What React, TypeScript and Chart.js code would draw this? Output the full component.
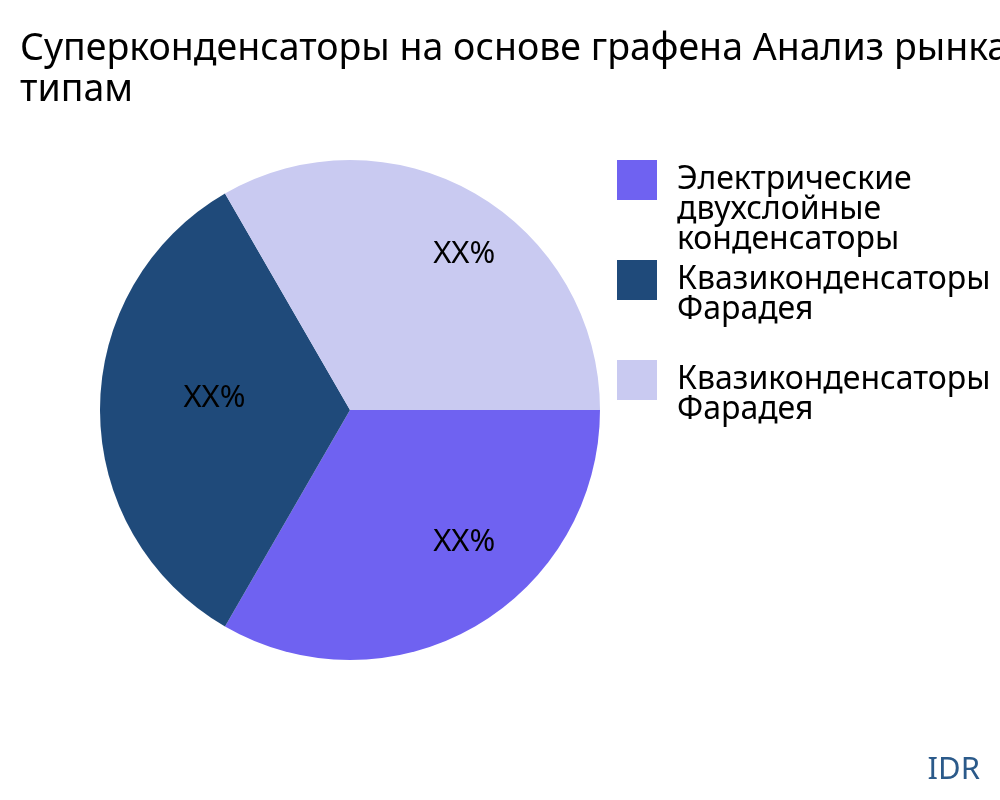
import React, { useEffect, useRef } from 'react';
import { Chart } from 'chart.js/auto';

const TITLE_LINES = ['Суперконденсаторы на основе графена Анализ рынка по', 'типам'];
const SEGMENTS = [
  'Электрические двухслойные конденсаторы',
  'Квазиконденсаторы Фарадея',
  'Квазиконденсаторы Фарадея',
];
const LEGEND_LINES = [
  ['Электрические', 'двухслойные', 'конденсаторы'],
  ['Квазиконденсаторы', 'Фарадея'],
  ['Квазиконденсаторы', 'Фарадея'],
];
const SHARES = [1, 1, 1];
const SLICE_LABELS = ['XX%', 'XX%', 'XX%'];
const COLORS = ['#6f62f1', '#1f4a7a', '#c9caf1'];
const SOURCE = 'IDR';

const FONT = '"Noto Sans", "Open Sans", sans-serif';

// custom drawing: title, slice labels, legend, source mark
const overlayPlugin = {
  id: 'overlay',
  afterDraw(chart: any) {
    const ctx = chart.ctx as CanvasRenderingContext2D;
    ctx.save();

    // title
    ctx.fillStyle = '#000';
    ctx.font = `37.5px ${FONT}`;
    ctx.textAlign = 'left';
    ctx.textBaseline = 'alphabetic';
    TITLE_LINES.forEach((line, i) => ctx.fillText(line, 20, 60 + i * 41));

    // labels inside slices
    const meta = chart.getDatasetMeta(0);
    ctx.font = `31px ${FONT}`;
    ctx.textAlign = 'center';
    ctx.textBaseline = 'middle';
    meta.data.forEach((arc: any, i: number) => {
      const { x, y, startAngle, endAngle, outerRadius } = arc.getProps(
        ['x', 'y', 'startAngle', 'endAngle', 'outerRadius'], true);
      const mid = (startAngle + endAngle) / 2;
      const r = outerRadius * 0.666;
      ctx.fillStyle = '#000';
      ctx.fillText(SLICE_LABELS[i], x + Math.cos(mid) * r + 31, y + Math.sin(mid) * r - 12);
    });

    // legend
    ctx.textAlign = 'left';
    ctx.font = `32px ${FONT}`;
    LEGEND_LINES.forEach((lines, i) => {
      const top = 160 + i * 100;
      ctx.fillStyle = COLORS[i];
      ctx.fillRect(617, top, 40, 40);
      ctx.fillStyle = '#000';
      lines.forEach((t, j) => ctx.fillText(t, 677, top + 20 + j * 30));
    });

    // source
    ctx.fillStyle = '#2b5a8a';
    ctx.font = `31px ${FONT}`;
    ctx.textAlign = 'right';
    ctx.textBaseline = 'alphabetic';
    ctx.fillText(SOURCE, 980, 779);

    ctx.restore();
  },
};

const App: React.FC = () => {
  const chartRef = useRef<HTMLCanvasElement>(null);
  const chartInstanceRef = useRef<Chart | null>(null);

  useEffect(() => {
    document.body.style.margin = '0';
    if (!chartRef.current) return;
    const ctx = chartRef.current.getContext('2d');
    if (!ctx) return;

    chartInstanceRef.current = new Chart(ctx, {
      type: 'pie',
      data: {
        labels: SEGMENTS,
        datasets: [{
          data: SHARES,
          backgroundColor: COLORS,
          borderWidth: 0,
        }],
      },
      options: {
        animation: false,
        responsive: false,
        devicePixelRatio: 1,
        rotation: 90,
        layout: { padding: { left: 100, right: 400, top: 160, bottom: 140 } },
        plugins: {
          legend: { display: false },
          title: { display: false },
          tooltip: { enabled: false },
        },
      },
      plugins: [overlayPlugin],
    });

    return () => {
      if (chartInstanceRef.current) {
        chartInstanceRef.current.destroy();
        chartInstanceRef.current = null;
      }
    };
  }, []);

  return (
    <div style={{ width: 1000, height: 800, background: '#fff' }}>
      <canvas ref={chartRef} width={1000} height={800} aria-label="Суперконденсаторы на основе графена"></canvas>
    </div>
  );
};

export default App;
